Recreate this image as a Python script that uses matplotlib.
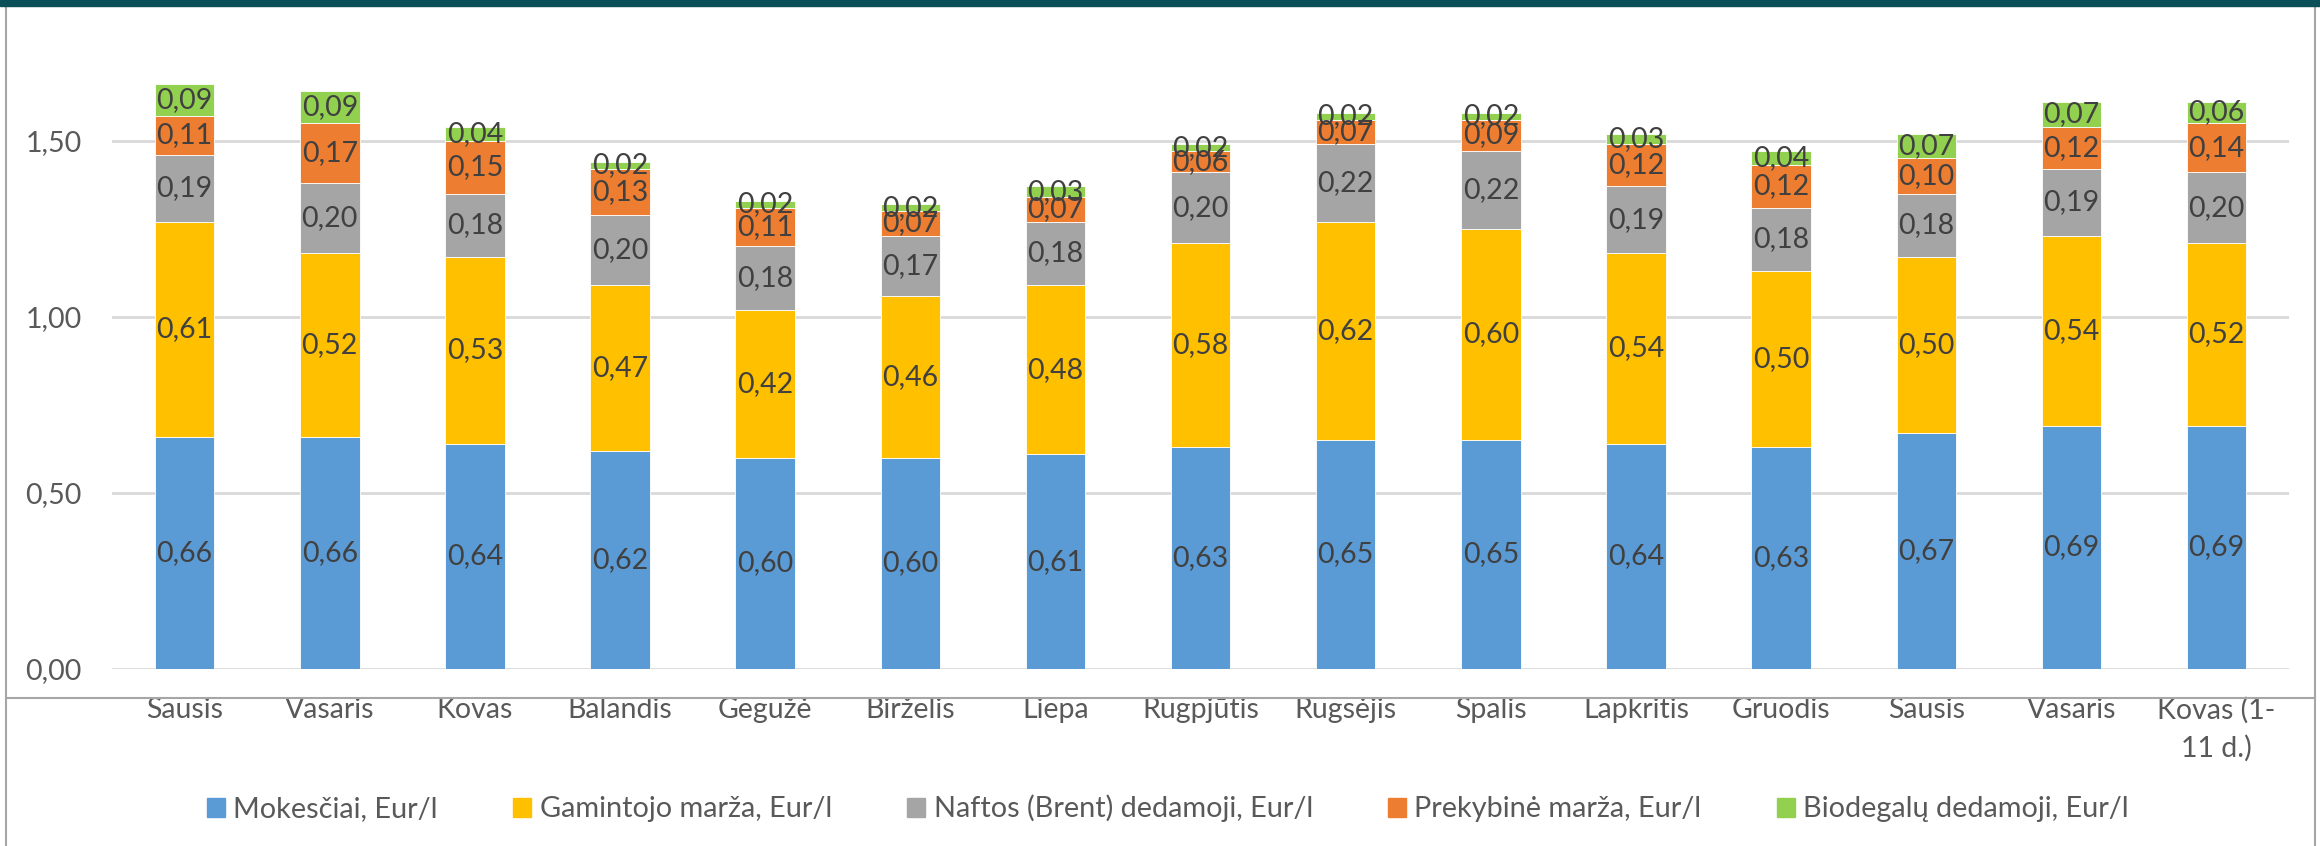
import numpy as np
import matplotlib
matplotlib.use("Agg")
import matplotlib.pyplot as plt
from matplotlib.patches import Rectangle
from matplotlib.lines import Line2D

plt.rcParams['font.family'] = ['Lato', 'DejaVu Sans']

months = ['Sausis', 'Vasaris', 'Kovas', 'Balandis', 'Gegužė', 'Birželis', 'Liepa',
          'Rugpjūtis', 'Rugsėjis', 'Spalis', 'Lapkritis', 'Gruodis', 'Sausis',
          'Vasaris', 'Kovas (1-\n11 d.)']

mokesciai = [0.66, 0.66, 0.64, 0.62, 0.60, 0.60, 0.61, 0.63, 0.65, 0.65, 0.64, 0.63, 0.67, 0.69, 0.69]
gamintojo = [0.61, 0.52, 0.53, 0.47, 0.42, 0.46, 0.48, 0.58, 0.62, 0.60, 0.54, 0.50, 0.50, 0.54, 0.52]
naftos = [0.19, 0.20, 0.18, 0.20, 0.18, 0.17, 0.18, 0.20, 0.22, 0.22, 0.19, 0.18, 0.18, 0.19, 0.20]
prekybine = [0.11, 0.17, 0.15, 0.13, 0.11, 0.07, 0.07, 0.06, 0.07, 0.09, 0.12, 0.12, 0.10, 0.12, 0.14]
biodegalu = [0.09, 0.09, 0.04, 0.02, 0.02, 0.02, 0.03, 0.02, 0.02, 0.02, 0.03, 0.04, 0.07, 0.07, 0.06]

series = [
    ('Mokesčiai, Eur/l', mokesciai, '#5B9BD5'),
    ('Gamintojo marža, Eur/l', gamintojo, '#FFC000'),
    ('Naftos (Brent) dedamoji, Eur/l', naftos, '#A5A5A5'),
    ('Prekybinė marža, Eur/l', prekybine, '#ED7D31'),
    ('Biodegalų dedamoji, Eur/l', biodegalu, '#92D050'),
]

fig = plt.figure(figsize=(23.2, 8.46), dpi=100)
ax = fig.add_axes([0.0483, 0.2092, 0.9384, 0.7494])

x = np.arange(len(months))
bottom = np.zeros(len(months))
handles = []
for name, vals, color in series:
    vals = np.array(vals)
    ax.bar(x, vals, width=0.41, bottom=bottom, color=color,
           edgecolor='white', linewidth=0.6, zorder=3)
    for xi, b, v in zip(x, bottom, vals):
        ax.text(xi, b + v / 2, f"{v:.2f}".replace('.', ','), ha='center', va='center',
                fontsize=20.5, color='#404040', zorder=4)
    bottom += vals
    handles.append(Rectangle((0, 0), 1, 1, color=color))

ax.set_xlim(-0.5, len(months) - 0.5)
ax.set_ylim(0, 1.8)
ax.set_yticks([0, 0.5, 1.0, 1.5])
ax.set_yticklabels(['0,00', '0,50', '1,00', '1,50'])
ax.set_xticks(x)
ax.set_xticklabels(months, linespacing=1.5)
ax.tick_params(axis='both', length=0, labelsize=20.5, labelcolor='#595959')
ax.tick_params(axis='x', pad=20)
ax.tick_params(axis='y', pad=22)
ax.grid(axis='y', color='#D9D9D9', linewidth=2, zorder=0)
for s in ax.spines.values():
    s.set_visible(False)

fig.legend(handles, [s[0] for s in series], loc='center', bbox_to_anchor=(0.5034, 0.0443),
           ncol=5, frameon=False, fontsize=20.8, labelcolor='#595959',
           handlelength=0.62, handleheight=0.62, handletextpad=0.3, columnspacing=2.6)

# top band and outer frame lines
fig.add_artist(Rectangle((0, 1 - 6 / 846), 1, 6 / 846, transform=fig.transFigure,
                         color='#0B4F59', zorder=5))
fig.add_artist(Line2D([6 / 2320, 6 / 2320], [0, 1], transform=fig.transFigure,
                      color='#A6A6A6', linewidth=1.5))
fig.add_artist(Line2D([2315 / 2320, 2315 / 2320], [0, 1], transform=fig.transFigure,
                      color='#A6A6A6', linewidth=1.5))
fig.add_artist(Line2D([6 / 2320, 2315 / 2320], [1 - 698 / 846, 1 - 698 / 846],
                      transform=fig.transFigure, color='#A6A6A6', linewidth=1.5))

fig.savefig('out.png', dpi=100)
